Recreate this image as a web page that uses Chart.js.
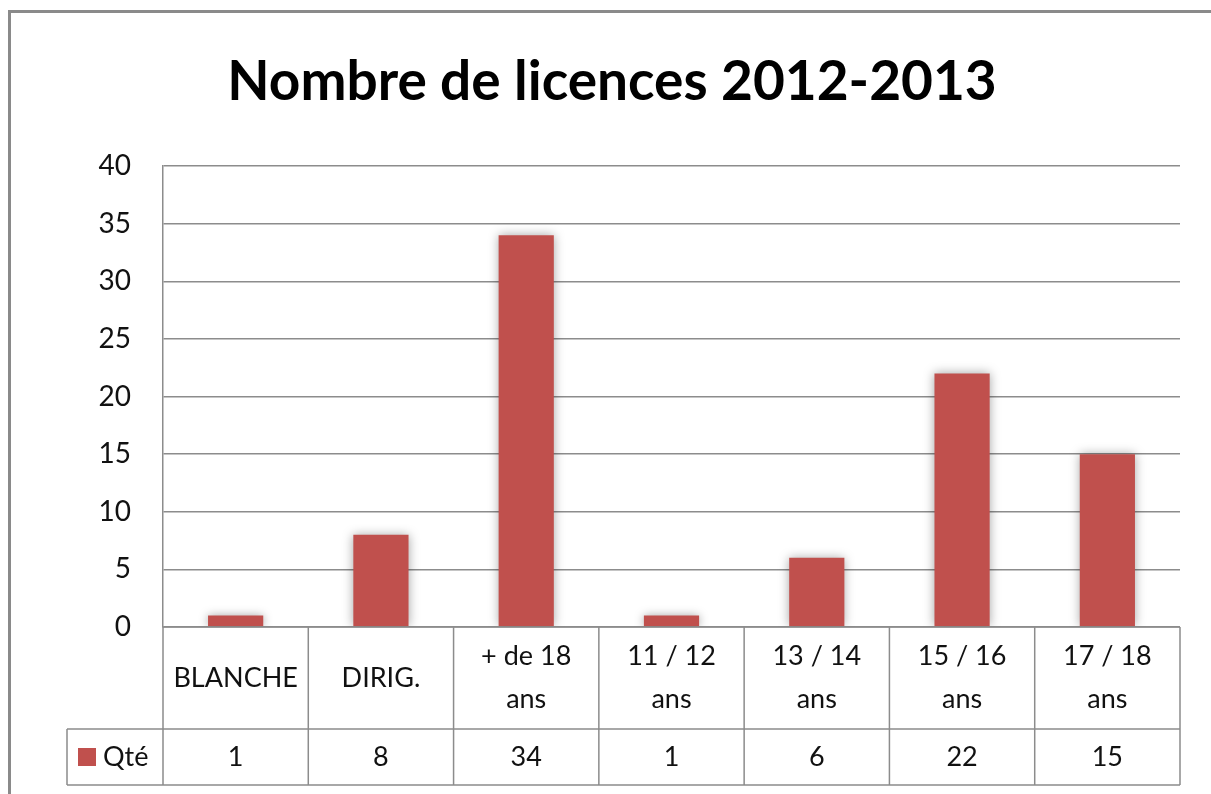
<!DOCTYPE html>
<html lang="fr">
<head>
<meta charset="utf-8">
<title>Nombre de licences 2012-2013</title>
<script src="https://cdn.jsdelivr.net/npm/chart.js@4/dist/chart.umd.min.js"></script>
<style>
  html, body { margin: 0; padding: 0; background: #fff; }
  #wrap { width: 1211px; height: 794px; position: relative; }
</style>
</head>
<body>
<div id="wrap"><canvas id="licences"></canvas></div>
<script>
// Données du graphique
const titre = "Nombre de licences 2012-2013";
const categories = [
  ["BLANCHE"],
  ["DIRIG."],
  ["+ de 18", "ans"],
  ["11 / 12", "ans"],
  ["13 / 14", "ans"],
  ["15 / 16", "ans"],
  ["17 / 18", "ans"],
];
const serieNom = "Qté";
const qte = [1, 8, 34, 1, 6, 22, 15];
const yMin = 0;
const yMax = 40;
const yPas = 5;

const ROUGE = "#C0504D";
const GRIS = "#8c8c8c";
const POLICE = "Lato, 'Noto Sans', sans-serif";

// Cadre extérieur (coupé à droite et en bas comme sur l'original)
const cadre = {
  id: "cadre",
  beforeDraw(chart) {
    const ctx = chart.ctx;
    ctx.save();
    ctx.strokeStyle = "#8a8a8a";
    ctx.lineWidth = 3;
    ctx.strokeRect(9.5, 11.5, 1400, 1000);
    ctx.restore();
  },
};

// Ombre légère autour des barres
const ombre = {
  id: "ombre",
  beforeDatasetDraw(chart) {
    const ctx = chart.ctx;
    ctx.save();
    ctx.shadowColor = "rgba(0,0,0,0.35)";
    ctx.shadowBlur = 10;
  },
  afterDatasetDraw(chart) {
    chart.ctx.restore();
  },
};

// Table de données sous l'axe des catégories
const tableDonnees = {
  id: "tableDonnees",
  afterDraw(chart) {
    const ctx = chart.ctx;
    const area = chart.chartArea;
    const xs = chart.scales.x;
    const n = categories.length;
    const colW = (area.right - area.left) / n;
    const haut1 = area.bottom;
    const bas1 = haut1 + 102;
    const bas2 = bas1 + 56;
    const gauche = 67;

    ctx.save();
    ctx.strokeStyle = GRIS;
    ctx.lineWidth = 1.5;
    ctx.beginPath();
    ctx.moveTo(area.left, haut1);
    ctx.lineTo(area.right, haut1);
    ctx.moveTo(gauche, bas1);
    ctx.lineTo(area.right, bas1);
    ctx.moveTo(gauche, bas2);
    ctx.lineTo(area.right, bas2);
    ctx.moveTo(gauche, bas1);
    ctx.lineTo(gauche, bas2);
    for (let i = 0; i <= n; i++) {
      const x = area.left + i * colW;
      ctx.moveTo(x, haut1);
      ctx.lineTo(x, bas2);
    }
    ctx.stroke();

    ctx.fillStyle = "#111";
    ctx.font = "27px " + POLICE;
    ctx.textAlign = "center";
    ctx.textBaseline = "middle";
    const mid1 = (haut1 + bas1) / 2;
    const mid2 = (bas1 + bas2) / 2;
    const interligne = 43;
    categories.forEach((lignes, i) => {
      const cx = xs.getPixelForValue(i);
      const y0 = mid1 - ((lignes.length - 1) * interligne) / 2;
      lignes.forEach((t, k) => ctx.fillText(t, cx, y0 + k * interligne));
      ctx.fillText(String(qte[i]), cx, mid2);
    });

    // légende de la série
    ctx.fillStyle = ROUGE;
    ctx.fillRect(78, mid2 - 9, 18, 18);
    ctx.fillStyle = "#111";
    ctx.textAlign = "left";
    ctx.fillText(serieNom, 103, mid2);
    ctx.restore();
  },
};

new Chart(document.getElementById("licences").getContext("2d"), {
  type: "bar",
  data: {
    labels: categories,
    datasets: [
      {
        label: serieNom,
        data: qte,
        backgroundColor: ROUGE,
        borderWidth: 0,
        categoryPercentage: 1,
        barPercentage: 0.38,
      },
    ],
  },
  options: {
    responsive: true,
    maintainAspectRatio: false,
    animation: false,
    layout: { padding: { left: 44, right: 31, top: 0, bottom: 167 } },
    scales: {
      x: { display: false },
      y: {
        min: yMin,
        max: yMax,
        ticks: {
          stepSize: yPas,
          padding: 32,
          color: "#111",
          font: { family: POLICE, size: 28 },
        },
        grid: { color: GRIS, lineWidth: 1.5, drawTicks: false },
        border: { display: true, color: GRIS, width: 1.5 },
        afterFit(scale) {
          scale.width = 119;
        },
      },
    },
    plugins: {
      legend: { display: false },
      tooltip: { enabled: false },
      title: {
        display: true,
        text: titre,
        color: "#000",
        font: { family: POLICE, size: 55, weight: "bold" },
        padding: { top: 49, bottom: 51 },
      },
    },
  },
  plugins: [cadre, ombre, tableDonnees],
});
</script>
</body>
</html>
